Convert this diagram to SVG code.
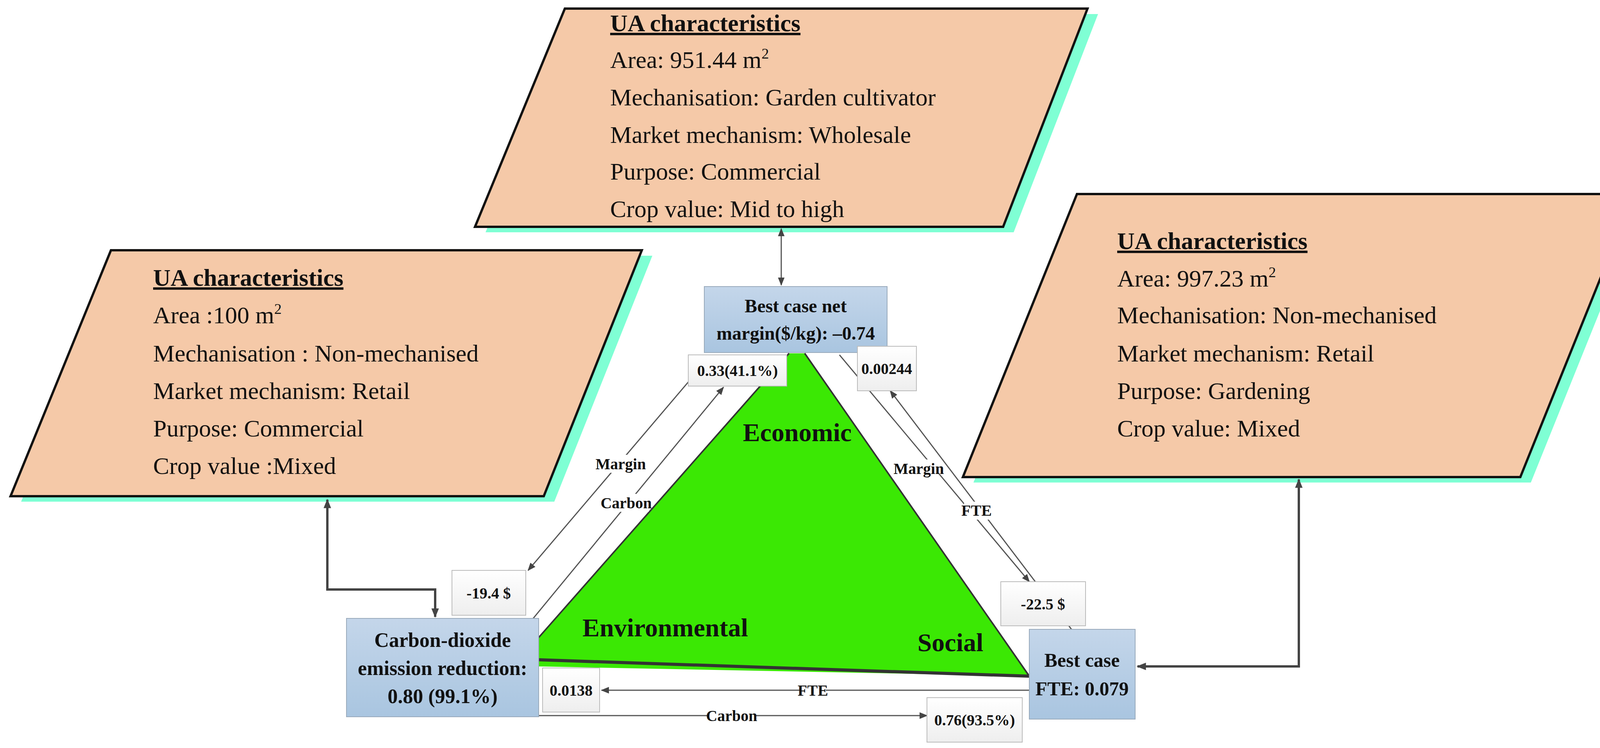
<svg xmlns="http://www.w3.org/2000/svg" width="4216" height="1916" viewBox="0 0 4216 1916">
<defs>
<linearGradient id="blue" x1="0" y1="0" x2="0" y2="1"><stop offset="0" stop-color="#c4d6ea"/><stop offset="1" stop-color="#a9c5e0"/></linearGradient>
<linearGradient id="wht" x1="0" y1="0" x2="0" y2="1"><stop offset="0" stop-color="#ffffff"/><stop offset="1" stop-color="#eeeeee"/></linearGradient>
<marker id="ah" viewBox="0 0 10 10" refX="9" refY="5" markerWidth="7" markerHeight="7" orient="auto-start-reverse" markerUnits="strokeWidth"><path d="M0,1 L10,5 L0,9 Z" fill="#444"/></marker>
<marker id="ahb" viewBox="0 0 10 10" refX="9" refY="5" markerWidth="4" markerHeight="4" orient="auto-start-reverse" markerUnits="strokeWidth"><path d="M0,1 L10,5 L0,9 Z" fill="#444"/></marker>
<style>
.para{fill:#f5c9a8;stroke:#111;stroke-width:6}
.shadow{fill:#7fffd4}
.t{font-family:"Liberation Serif",serif;font-size:62px;fill:#111}
.h{font-weight:bold;text-decoration:underline}
.nb{font-family:"Liberation Serif",serif;font-weight:bold;fill:#111;text-anchor:middle}
.node{fill:url(#blue);stroke:#9ab;stroke-width:2}
.lab{fill:url(#wht);stroke:#bbb;stroke-width:2}
.ln{stroke:#555;stroke-width:3;fill:none}
.thick{stroke:#444;stroke-width:6;fill:none}
.cl{font-family:"Liberation Serif",serif;font-weight:bold;font-size:40px;fill:#111;text-anchor:middle}
</style>
</defs>
<g id="triangle">
<polygon points="2020,905 2060,905 2635,1732 1379,1707 1379,1633" fill="#3be804"/>
<line x1="1379" y1="1690" x2="2635" y2="1732" stroke="#333" stroke-width="8"/>
<line x1="2060" y1="905" x2="2635" y2="1732" stroke="#333" stroke-width="4"/>
<line x1="2020" y1="905" x2="1379" y2="1633" stroke="#333" stroke-width="4"/>
<text class="nb" x="2041" y="1130" font-size="66">Economic</text>
<text class="nb" x="1703" y="1630" font-size="66">Environmental</text>
<text class="nb" x="2433" y="1668" font-size="66">Social</text>
</g>
<g id="ua-top">
<polygon class="shadow" points="1473,36 2811,36 2595,595 1243,595"/>
<polygon class="para" points="1446,22 2784,22 2568,581 1216,581"/>
<text class="t h" x="1562" y="80">UA characteristics</text>
<text class="t" x="1562" y="174">Area: 951.44 m<tspan dy="-24" font-size="38">2</tspan></text>
<text class="t" x="1562" y="270">Mechanisation: Garden cultivator</text>
<text class="t" x="1562" y="366">Market mechanism: Wholesale</text>
<text class="t" x="1562" y="460">Purpose: Commercial</text>
<text class="t" x="1562" y="556">Crop value: Mid to high</text>
</g>
<g id="ua-left">
<polygon class="shadow" points="311,655 1670,655 1419,1285 54,1285"/>
<polygon class="para" points="284,641 1643,641 1392,1271 27,1271"/>
<text class="t h" x="392" y="732">UA characteristics</text>
<text class="t" x="392" y="828">Area :100 m<tspan dy="-24" font-size="38">2</tspan></text>
<text class="t" x="392" y="926">Mechanisation : Non-mechanised</text>
<text class="t" x="392" y="1022">Market mechanism: Retail</text>
<text class="t" x="392" y="1118">Purpose: Commercial</text>
<text class="t" x="392" y="1214">Crop value :Mixed</text>
</g>
<g id="ua-right">
<polygon class="shadow" points="2784,511 4211,511 3919,1236 2492,1236"/>
<polygon class="para" points="2757,497 4184,497 3892,1222 2465,1222"/>
<text class="t h" x="2860" y="638">UA characteristics</text>
<text class="t" x="2860" y="734">Area: 997.23 m<tspan dy="-24" font-size="38">2</tspan></text>
<text class="t" x="2860" y="828">Mechanisation: Non-mechanised</text>
<text class="t" x="2860" y="926">Market mechanism: Retail</text>
<text class="t" x="2860" y="1022">Purpose: Gardening</text>
<text class="t" x="2860" y="1118">Crop value: Mixed</text>
</g>
<g id="connectors">
<line class="ln" x1="2000" y1="586" x2="2000" y2="730" marker-start="url(#ah)" marker-end="url(#ah)"/>
<polyline class="thick" points="838,1280 838,1510 1114,1510 1114,1580" marker-start="url(#ahb)" marker-end="url(#ahb)"/>
<polyline class="thick" points="2912,1707 3325,1707 3325,1228" marker-start="url(#ahb)" marker-end="url(#ahb)"/>
<line class="ln" x1="1816" y1="915" x2="1352" y2="1461" marker-end="url(#ah)"/>
<line class="ln" x1="1365" y1="1584" x2="1852" y2="992" marker-end="url(#ah)"/>
<line class="ln" x1="2149" y1="909" x2="2635" y2="1490" marker-end="url(#ah)"/>
<line class="ln" x1="2743" y1="1612" x2="2279" y2="1001" marker-end="url(#ah)"/>
<line class="ln" x1="2635" y1="1768" x2="1540" y2="1768" marker-end="url(#ah)"/>
<line class="ln" x1="1379" y1="1833" x2="2373" y2="1833" marker-end="url(#ah)"/>
<rect x="1538" y="1165" width="102" height="46" fill="#fff"/><text class="cl" x="1589" y="1202">Margin</text>
<rect x="1545" y="1265" width="116" height="46" fill="#fff"/><text class="cl" x="1603" y="1302">Carbon</text>
<rect x="2301" y="1177" width="102" height="46" fill="#fff"/><text class="cl" x="2352" y="1214">Margin</text>
<rect x="2468" y="1285" width="64" height="46" fill="#fff"/><text class="cl" x="2500" y="1321">FTE</text>
<rect x="2048" y="1746" width="66" height="46" fill="#fff"/><text class="cl" x="2081" y="1782">FTE</text>
<rect x="1815" y="1811" width="116" height="46" fill="#fff"/><text class="cl" x="1873" y="1847">Carbon</text>
</g>
<g id="best-margin">
<rect class="node" x="1803" y="734" width="468" height="169"/>
<text class="nb" x="2037" y="800" font-size="48">Best case net</text>
<text class="nb" x="2037" y="870" font-size="48">margin($/kg): –0.74</text>
</g>
<g id="co2">
<rect class="node" x="887" y="1584" width="492" height="252"/>
<text class="nb" x="1133" y="1657" font-size="52">Carbon-dioxide</text>
<text class="nb" x="1133" y="1729" font-size="52">emission reduction:</text>
<text class="nb" x="1133" y="1801" font-size="52">0.80 (99.1%)</text>
</g>
<g id="best-fte">
<rect class="node" x="2635" y="1612" width="271" height="230"/>
<text class="nb" x="2770" y="1708" font-size="50">Best case</text>
<text class="nb" x="2770" y="1781" font-size="50">FTE: 0.079</text>
</g>
<g id="labels">
<rect class="lab" x="1762" y="909" width="252" height="80"/><text class="cl" x="1888" y="963">0.33(41.1%)</text>
<rect class="lab" x="2195" y="887" width="151" height="114"/><text class="cl" x="2270" y="958">0.00244</text>
<rect class="lab" x="1157" y="1461" width="189" height="115"/><text class="cl" x="1251" y="1533">-19.4 $</text>
<rect class="lab" x="2562" y="1490" width="217" height="113"/><text class="cl" x="2670" y="1561">-22.5 $</text>
<rect class="lab" x="1389" y="1711" width="146" height="113"/><text class="cl" x="1462" y="1782">0.0138</text>
<rect class="lab" x="2373" y="1787" width="244" height="114"/><text class="cl" x="2495" y="1858">0.76(93.5%)</text>
</g>
</svg>
